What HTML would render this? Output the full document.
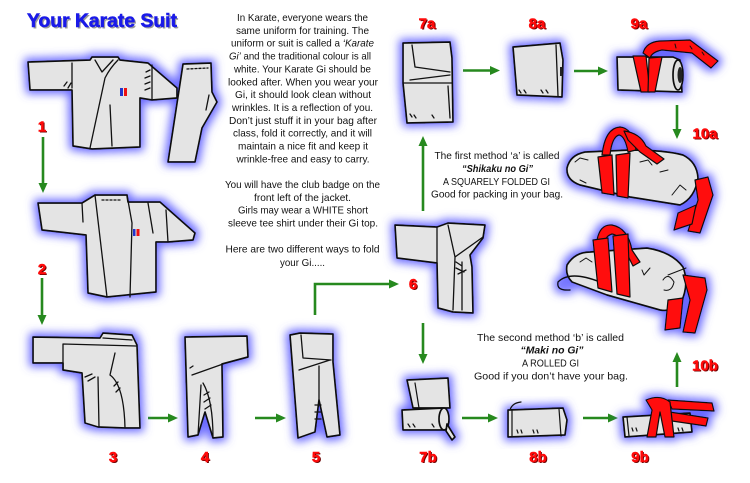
<!DOCTYPE html>
<html><head><meta charset="utf-8"><style>
html,body{margin:0;padding:0;background:#fff;}
svg{display:block;}
text{font-family:"Liberation Sans",Arial,sans-serif;}
</style></head><body>
<svg width="750" height="483" viewBox="0 0 750 483" xmlns="http://www.w3.org/2000/svg">
<defs>
<filter id="g" x="-40%" y="-40%" width="180%" height="180%">
<feMorphology in="SourceAlpha" operator="dilate" radius="3" result="d"/>
<feGaussianBlur in="d" stdDeviation="4.5" result="b"/>
<feFlood flood-color="#5a5aff" flood-opacity="0.9"/>
<feComposite in2="b" operator="in" result="c"/>
<feMerge><feMergeNode in="c"/><feMergeNode in="SourceGraphic"/></feMerge>
</filter>
</defs>
<rect width="750" height="483" fill="#fff"/>

<!-- Title -->
<text x="28.5" y="28.5" font-size="19" font-weight="bold" fill="#999" textLength="150" lengthAdjust="spacingAndGlyphs">Your Karate Suit</text>
<text x="27" y="27" font-size="19" font-weight="bold" fill="#1a1ae8" stroke="#1a1ae8" stroke-width="0.6" textLength="150" lengthAdjust="spacingAndGlyphs">Your Karate Suit</text>

<!-- Body text -->
<g font-size="10.5" fill="#111" text-anchor="middle">
<text x="302.5" y="21" textLength="131" lengthAdjust="spacingAndGlyphs">In Karate, everyone wears the</text>
<text x="302.5" y="33.9" textLength="133" lengthAdjust="spacingAndGlyphs">same uniform for training. The</text>
<text x="302.5" y="46.7" textLength="143" lengthAdjust="spacingAndGlyphs">uniform or suit is called a <tspan font-style="italic">‘Karate</tspan></text>
<text x="300" y="59.6" textLength="142" lengthAdjust="spacingAndGlyphs"><tspan font-style="italic">Gi’</tspan> and the traditional colour is all</text>
<text x="302.5" y="72.4" textLength="137" lengthAdjust="spacingAndGlyphs">white. Your Karate Gi should be</text>
<text x="303" y="85.3" textLength="150" lengthAdjust="spacingAndGlyphs">looked after. When you wear your</text>
<text x="303" y="98.1" textLength="136" lengthAdjust="spacingAndGlyphs">Gi, it should look clean without</text>
<text x="302.5" y="111" textLength="141" lengthAdjust="spacingAndGlyphs">wrinkles. It is a reflection of you.</text>
<text x="303" y="123.8" textLength="148" lengthAdjust="spacingAndGlyphs">Don’t just stuff it in your bag after</text>
<text x="302.5" y="136.7" textLength="139" lengthAdjust="spacingAndGlyphs">class, fold it correctly, and it will</text>
<text x="303" y="149.5" textLength="130" lengthAdjust="spacingAndGlyphs">maintain a nice fit and keep it</text>
<text x="303" y="162.4" textLength="133" lengthAdjust="spacingAndGlyphs">wrinkle-free and easy to carry.</text>
<text x="302.5" y="188" textLength="155" lengthAdjust="spacingAndGlyphs">You will have the club badge on the</text>
<text x="302.5" y="201" textLength="97" lengthAdjust="spacingAndGlyphs">front left of the jacket.</text>
<text x="303" y="213.6" textLength="130" lengthAdjust="spacingAndGlyphs">Girls may wear a WHITE short</text>
<text x="303" y="226.4" textLength="150" lengthAdjust="spacingAndGlyphs">sleeve tee shirt under their Gi top.</text>
<text x="302.5" y="252.4" textLength="154" lengthAdjust="spacingAndGlyphs">Here are two different ways to fold</text>
<text x="302.5" y="266" textLength="45" lengthAdjust="spacingAndGlyphs">your Gi.....</text>

<text x="497" y="159" textLength="125" lengthAdjust="spacingAndGlyphs">The first method ‘a’ is called</text>
<text x="497.5" y="172" textLength="71" lengthAdjust="spacingAndGlyphs" font-weight="bold" font-style="italic">“Shikaku no Gi”</text>
<text x="496.5" y="185" textLength="107" lengthAdjust="spacingAndGlyphs">A SQUARELY FOLDED GI</text>
<text x="497" y="197.5" textLength="132" lengthAdjust="spacingAndGlyphs">Good for packing in your bag.</text>

<text x="550.5" y="341" textLength="147" lengthAdjust="spacingAndGlyphs">The second method ‘b’ is called</text>
<text x="552" y="353.5" textLength="63" lengthAdjust="spacingAndGlyphs" font-weight="bold" font-style="italic">“Maki no Gi”</text>
<text x="550.5" y="366.5" textLength="57" lengthAdjust="spacingAndGlyphs">A ROLLED GI</text>
<text x="551" y="379.5" textLength="154" lengthAdjust="spacingAndGlyphs">Good if you don’t have your bag.</text>
</g>

<!-- Red labels -->
<g font-size="15" font-weight="bold" text-anchor="middle">
<g fill="#6a0000" transform="translate(1.2,1.2)">
<text x="42" y="131.5">1</text><text x="42" y="274">2</text>
<text x="113" y="462">3</text><text x="205" y="462">4</text><text x="316" y="462">5</text>
<text x="413" y="289">6</text>
<text x="427" y="28.5">7a</text><text x="537" y="28.5">8a</text><text x="639" y="28.5">9a</text>
<text x="705" y="138.5">10a</text><text x="705" y="370.5">10b</text>
<text x="428" y="462">7b</text><text x="538" y="462">8b</text><text x="640" y="462">9b</text>
</g>
<g fill="#ff0a0a" stroke="#ff0a0a" stroke-width="0.5">
<text x="42" y="131.5">1</text><text x="42" y="274">2</text>
<text x="113" y="462">3</text><text x="205" y="462">4</text><text x="316" y="462">5</text>
<text x="413" y="289">6</text>
<text x="427" y="28.5">7a</text><text x="537" y="28.5">8a</text><text x="639" y="28.5">9a</text>
<text x="705" y="138.5">10a</text><text x="705" y="370.5">10b</text>
<text x="428" y="462">7b</text><text x="538" y="462">8b</text><text x="640" y="462">9b</text>
</g>
</g>

<!-- Green arrows -->
<g stroke="#26891e" stroke-width="2.6" fill="none">
<path d="M43,137 V184"/>
<path d="M42,278 V316"/>
<path d="M148,418 H169"/>
<path d="M255,418 H277"/>
<path d="M315,315 V284 H390"/>
<path d="M423,211 V145"/>
<path d="M423,323 V355"/>
<path d="M463,70.5 H491"/>
<path d="M574,71 H599"/>
<path d="M677,105 V130"/>
<path d="M677,387 V361"/>
<path d="M462,418 H489"/>
<path d="M583,418 H609"/>
</g>
<g fill="#26891e">
<polygon points="38.5,183 47.5,183 43,193"/>
<polygon points="37.5,315 46.5,315 42,325"/>
<polygon points="168,413.5 168,422.5 178,418"/>
<polygon points="276,413.5 276,422.5 286,418"/>
<polygon points="389,279.5 389,288.5 399,284"/>
<polygon points="418.5,146 427.5,146 423,136"/>
<polygon points="418.5,354 427.5,354 423,364"/>
<polygon points="490,66 490,75 500,70.5"/>
<polygon points="598,66.5 598,75.5 608,71"/>
<polygon points="672.5,129 681.5,129 677,139"/>
<polygon points="672.5,362 681.5,362 677,352"/>
<polygon points="488,413.5 488,422.5 498,418"/>
<polygon points="608,413.5 608,422.5 618,418"/>
</g>

<!-- Figures -->
<g stroke="#111" stroke-width="1.7" stroke-linejoin="round" stroke-linecap="round">

<!-- Gi 1 -->
<g filter="url(#g)">
<path fill="#e4e4e4" d="M28,62 L90,60 L92,57 L118,57 L120,60 L148,63 L177,88 L177,98 L152,100 L140,98 L140,147 L92,149 L73,146 L72,90 L30,90 Z"/>
<path fill="#e4e4e4" d="M183,64 L211,63 L212,92 L217,102 L202,128 L195,162 L168,162 Z"/>
</g>
<g fill="none" stroke-width="1.3">
<path d="M72,63 L72,88 M152,65 L152,100 M95,60 L102,72 L113,60 M118,60 Q110,68 105,78 L90,148 M110,105 L112,146 M146,72 L150,70 M145,78 L150,76 M145,84 L150,82 M145,90 L150,88 M64,86 L67,82 M68,88 L71,83 M209,95 L206,110"/>
<path d="M187,69 L208,68" stroke-dasharray="2,2"/>
</g>
<rect x="120" y="88" width="3" height="8" fill="#2233cc" stroke="none"/>
<rect x="124" y="88" width="3" height="8" fill="#ee1111" stroke="none"/>

<!-- Gi 2 -->
<g filter="url(#g)">
<path fill="#e4e4e4" d="M38,203 L82,203 L95,195 L127,195 L128,202 L160,202 L195,233 L193,240 L168,242 L156,242 L156,292 L107,297 L88,293 L86,235 L42,230 Z"/>
</g>
<g fill="none" stroke-width="1.3">
<path d="M95,195 L107,297 M127,195 L132,223 L130,297 M82,203 L83,222 M148,203 L153,233 M168,242 L166,210"/>
<path d="M102,200 L120,200" stroke-dasharray="2,2"/>
</g>
<rect x="133" y="229" width="2.5" height="7" fill="#2233cc" stroke="none"/>
<rect x="136.5" y="229" width="3" height="7" fill="#ee1111" stroke="none"/>

<!-- Gi 3 -->
<g filter="url(#g)">
<path fill="#e4e4e4" d="M33,337 L100,338 L103,333 L132,335 L137,345 L140,428 L125,428 L98,427 L85,423 L82,373 L63,370 L63,363 L33,363 Z"/>
</g>
<g fill="none" stroke-width="1.3">
<path d="M63,344 L136,346 M63,344 L63,370 M115,353 L110,375 M110,375 Q124,385 125,428 M98,377 L99,427 M103,338 L132,340 M85,377 L92,374 M88,381 L95,377 M114,386 L118,382 M116,392 L120,388"/>
</g>

<!-- Gi 4 -->
<g filter="url(#g)">
<path fill="#e4e4e4" d="M185,337 L247,336 L248,357 L222,364 L223,437 L213,438 L205,412 L198,435 L188,437 Z"/>
</g>
<g fill="none" stroke-width="1.3">
<path d="M192,375 L223,364 M201,385 L198,435 M203,383 Q213,400 213,438 M204,395 L209,392 M204,402 L210,398 M205,409 L211,405 M190,368 L193,366"/>
</g>

<!-- Gi 5 -->
<g filter="url(#g)">
<path fill="#e4e4e4" d="M290,335 L300,333 L333,334 L333,362 L340,435 L327,437 L319,400 L315,432 L298,438 Z"/>
</g>
<g fill="none" stroke-width="1.3">
<path d="M301,335 L303,358 L331,360 M299,370 L330,360 M319,366 L319,400 M315,405 L321,405 M315,412 L321,412 M315,419 L321,419"/>
</g>

<!-- Gi 6 -->
<g filter="url(#g)">
<path fill="#e4e4e4" d="M395,225 L437,227 L448,223 L485,225 L483,238 L470,255 L472,267 L473,313 L453,312 L438,308 L437,263 L397,258 Z"/>
</g>
<g fill="none" stroke-width="1.3">
<path d="M437,227 L437,263 M448,225 L455,257 L453,310 M455,257 L483,237 M462,262 L462,310 M456,262 L462,266 M456,268 L464,272 M458,274 L466,270"/>
</g>

<!-- 7a -->
<g filter="url(#g)">
<path fill="#e4e4e4" d="M403,43 L450,42 L452,58 L453,122 L407,123 L403,83 Z"/>
</g>
<g fill="none" stroke-width="1.3">
<path d="M403,83 L452,83 M412,45 L415,67 L450,72 M410,80 L450,75 M448,86 L450,118 M410,114 L412,117 M414,115 L416,118 M432,115 L434,118"/>
</g>

<!-- 8a -->
<g filter="url(#g)">
<path fill="#e4e4e4" d="M513,47 L560,43 L563,60 L562,97 L517,95 Z"/>
</g>
<g fill="none" stroke-width="1.3">
<path d="M556,45 L558,96 M519,90 L521,93 M524,90 L526,93 M541,90 L543,93 M546,90 L548,93"/>
</g>
<rect x="560" y="67" width="2.5" height="9" fill="#222" stroke="none"/>

<!-- 9a -->
<g filter="url(#g)">
<path fill="#e4e4e4" d="M617,57 L673,57 L680,60 L682,92 L618,90 Z"/>
<ellipse cx="678" cy="75" rx="5" ry="15" fill="#ddd"/>
<path fill="#ff1010" stroke-width="1.2" d="M643,53 Q646,42 660,41 L690,40 L718,61 L711,68 L692,53 L662,50 Q652,52 650,58 Z"/>
<path fill="#ff1010" stroke-width="1.2" d="M633,56 L646,56 L650,92 L641,92 Z"/>
<path fill="#ff1010" stroke-width="1.2" d="M649,58 L662,57 L655,92 L648,92 Z"/>
</g>
<ellipse cx="680" cy="75" rx="2.5" ry="8" fill="#222" stroke="none"/>
<path fill="none" stroke-width="1" d="M675,44 L676,48 M690,46 L692,49 M702,52 L704,55"/>

<!-- 10a -->
<g filter="url(#g)">
<path fill="#e4e4e4" d="M567,168 Q570,155 585,152 L630,150 Q665,150 683,155 Q697,162 698,178 Q695,198 680,205 L630,197 L580,185 Q566,180 567,168 Z"/>
<path fill="#ff1010" stroke-width="1.2" d="M602,155 Q605,128 620,127 Q633,128 636,150 L628,152 Q625,136 619,135 Q612,137 610,155 Z"/>
<path fill="#ff1010" stroke-width="1.2" d="M624,131 Q640,133 646,146 L664,159 L657,164 L640,152 L628,140 Z"/>
<path fill="#ff1010" stroke-width="1.2" d="M598,157 L612,155 L614,195 L602,193 Z"/>
<path fill="#ff1010" stroke-width="1.2" d="M616,155 L630,153 L628,198 L617,196 Z"/>
<path fill="#ff1010" stroke-width="1.2" d="M695,180 L708,177 L713,195 L700,233 L688,231 L698,200 Z"/>
<path fill="#ff1010" stroke-width="1.2" d="M678,213 L696,205 L692,224 L674,230 Z"/>
</g>
<g fill="none" stroke-width="1">
<path d="M575,162 L580,158 L588,160 M640,162 L648,160 L652,165 M660,172 L668,170 M580,180 L586,183 M672,195 L680,185 L686,190"/>
</g>

<!-- 10b -->
<g filter="url(#g)">
<path fill="#e4e4e4" d="M567,265 Q575,252 590,252 L647,248 Q672,252 683,267 Q690,285 680,305 Q670,312 660,310 L607,295 L572,282 Q565,275 567,265 Z"/>
<path fill="none" stroke-width="1.4" d="M600,282 Q570,270 558,282 Q556,291 570,290"/>
<path fill="#ff1010" stroke-width="1.2" d="M597,240 Q600,224 612,225 Q628,228 632,250 L640,262 L633,266 L625,250 Q620,235 612,234 Q606,236 606,240 Z"/>
<path fill="#ff1010" stroke-width="1.2" d="M593,240 L608,238 L612,292 L598,288 Z"/>
<path fill="#ff1010" stroke-width="1.2" d="M613,236 L628,234 L630,297 L617,294 Z"/>
<path fill="#ff1010" stroke-width="1.2" d="M683,275 L705,278 L707,290 L695,333 L683,332 L690,300 Z"/>
<path fill="#ff1010" stroke-width="1.2" d="M668,300 L683,298 L680,328 L665,330 Z"/>
</g>
<g fill="none" stroke-width="1">
<path d="M580,262 L586,258 L592,262 M642,270 L644,275 L650,268 M663,280 Q668,272 674,282 Q672,292 664,290 M668,275 L686,268"/>
</g>

<!-- 7b -->
<g filter="url(#g)">
<path fill="#e4e4e4" d="M407,380 L448,378 L450,408 L413,408 Z"/>
<path fill="#e4e4e4" d="M402,410 L443,408 L445,430 L403,430 Z"/>
<ellipse cx="444" cy="419" rx="5" ry="11" fill="#e4e4e4"/>
<path fill="#e4e4e4" d="M447,424 L455,437 L452,440 L446,431 Z"/>
</g>
<g fill="none" stroke-width="1.2">
<path d="M415,383 L419,408 M408,424 L410,427 M413,424 L415,427 M432,424 L434,427"/>
</g>

<!-- 8b -->
<g filter="url(#g)">
<path fill="#e4e4e4" d="M508,410 L563,408 L567,420 L565,435 L508,437 Z"/>
</g>
<g fill="none" stroke-width="1.2">
<path d="M512,410 L512,437 M559,409 L561,436 M510,410 Q512,403 521,402 M517,430 L518,433 M521,430 L522,433 M533,430 L534,433 M537,430 L538,433"/>
</g>

<!-- 9b -->
<g filter="url(#g)">
<path fill="#e4e4e4" d="M623,417 L690,413 L692,432 L625,437 Z"/>
<path fill="#ff1010" stroke-width="1.2" d="M668,400 L712,403 L714,411 L672,409 Z"/>
<path fill="#ff1010" stroke-width="1.2" d="M670,412 L708,418 L706,426 L672,421 Z"/>
<path fill="#ff1010" stroke-width="1.2" d="M646,400 Q660,394 670,402 L674,437 L665,437 L660,412 L656,437 L647,437 L652,410 Z"/>
</g>
<g fill="none" stroke-width="1.2">
<path d="M627,417 L629,436 M632,428 L633,431 M636,428 L637,431 M678,428 L679,431 M682,428 L683,431"/>
</g>

</g>
</svg>
</body></html>
